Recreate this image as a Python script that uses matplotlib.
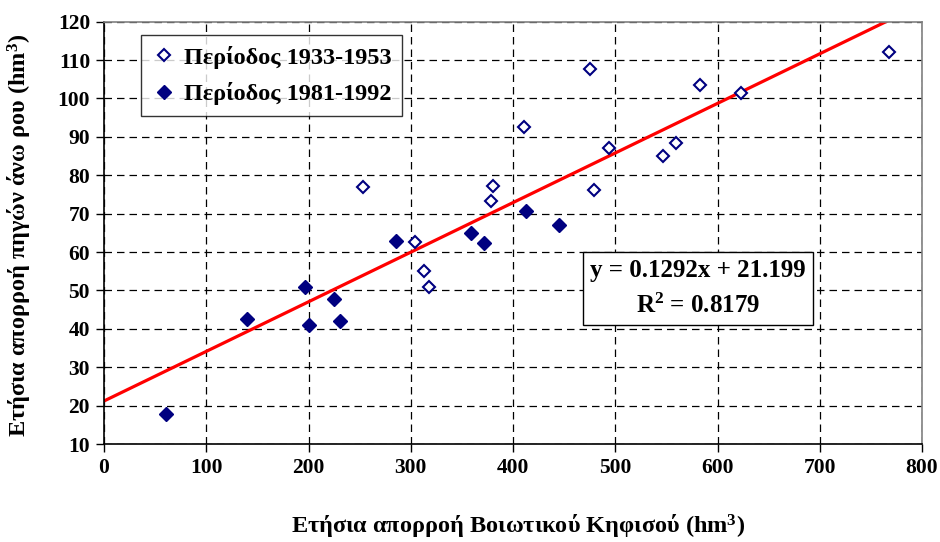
import matplotlib
matplotlib.use("Agg")
import matplotlib.pyplot as plt
import numpy as np

plt.rcParams['font.family'] = ['Liberation Serif', 'DejaVu Serif']
plt.rcParams['font.weight'] = 'bold'
plt.rcParams['mathtext.fontset'] = 'custom'
plt.rcParams['mathtext.rm'] = 'Liberation Serif:bold'
plt.rcParams['mathtext.bf'] = 'Liberation Serif:bold'
plt.rcParams['mathtext.it'] = 'Liberation Serif:bold'

# Period 1933-1953 (open diamonds)
x_old = [253, 304, 313, 318, 378, 380, 411, 475, 479, 494, 547, 559, 583, 623, 768]
y_old = [77.0, 62.5, 55.1, 50.9, 73.3, 77.1, 92.5, 107.6, 76.2, 87.2, 85.0, 88.3, 103.4, 101.3, 112.0]

# Period 1981-1992 (filled diamonds)
x_new = [61, 140, 197, 200, 225, 231, 286, 359, 372, 413, 445]
y_new = [17.7, 42.5, 50.8, 41.1, 47.8, 42.0, 62.8, 65.0, 62.4, 70.8, 67.0]

slope = 0.1292
intercept = 21.199

xticks = [0, 100, 200, 300, 400, 500, 600, 700, 800]
yticks = [10, 20, 30, 40, 50, 60, 70, 80, 90, 100, 110, 120]

label_old = 'Περίοδος 1933-1953'
label_new = 'Περίοδος 1981-1992'
xlabel = 'Ετήσια απορροή Βοιωτικού Κηφισού (hm$^{3}$)'
ylabel = 'Ετήσια απορροή πηγών άνω ρου (hm$^{3}$)'
eq_text = 'y = 0.1292x + 21.199\nR$^{2}$ = 0.8179'

navy = '#000080'

fig = plt.figure(figsize=(9.4, 5.42), dpi=100)
ax = fig.add_axes([104/940, 1-444/542, (922-104)/940, (444-21.7)/542])

ax.set_xlim(0, 800)
ax.set_ylim(10, 120)
ax.set_xticks(xticks)
ax.set_yticks(yticks)

ax.grid(True, color='black', linestyle=(0, (6, 4)), linewidth=0.9)
ax.set_axisbelow(True)

xl = np.array([0, 800])
ax.plot(xl, slope*xl + intercept, color='#ff0000', lw=2.3, zorder=2)

ax.plot(x_old, y_old, linestyle='none', marker='D', ms=6.5, mfc='white',
        mec=navy, mew=1.5, label=label_old, zorder=3)
ax.plot(x_new, y_new, linestyle='none', marker='D', ms=7, mfc=navy,
        mec=navy, mew=1, label=label_new, zorder=3)

for s in ['top', 'right']:
    ax.spines[s].set_color('#808080')
    ax.spines[s].set_linewidth(1.2)
for s in ['left', 'bottom']:
    ax.spines[s].set_color('black')
    ax.spines[s].set_linewidth(1.2)

ax.tick_params(direction='out', length=6, width=1, labelsize=15.5, pad=4)
for lab in ax.get_xticklabels() + ax.get_yticklabels():
    lab.set_fontweight('bold')

fig.text(518/940, 1-527/542, xlabel, ha='center', va='center',
         fontsize=17.5, fontweight='bold')
fig.text(20/940, 1-235/542, ylabel, ha='center', va='center', rotation=90,
         fontsize=17.5, fontweight='bold')

leg = ax.legend(loc='upper left', bbox_to_anchor=((141-104)/818, 1-(35-21.7)/422.3),
                frameon=True, fancybox=False, handletextpad=0.3,
                handlelength=1.0, borderpad=0.45, labelspacing=0.55,
                borderaxespad=0,
                prop={'weight': 'bold', 'size': 17.5})
leg.get_frame().set_edgecolor('black')
leg.get_frame().set_linewidth(1.0)

ax.text((698-104)/818, 1-(288.5-21.7)/422.3, eq_text, transform=ax.transAxes,
        ha='center', va='center', fontsize=18, fontweight='bold',
        linespacing=1.6,
        bbox=dict(boxstyle='square,pad=0.3', fc='white', ec='black', lw=1.0))

fig.savefig('out.png', dpi=100)
